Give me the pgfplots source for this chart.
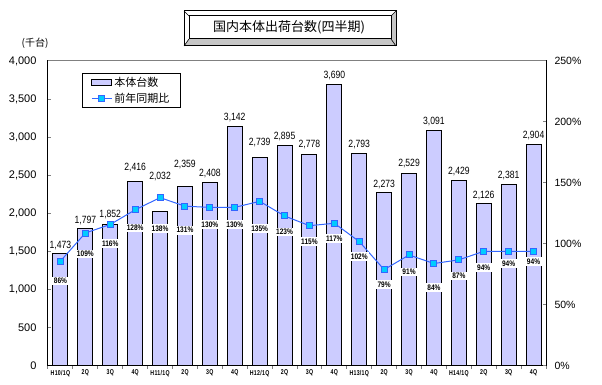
\documentclass[border=0pt]{standalone}
\usepackage{fontspec}
\setmainfont{Liberation Sans}
\newfontfamily\jp{Noto Sans CJK JP}
\newfontfamily\cond[FakeStretch=0.82]{Liberation Sans}
\newfontfamily\xcond[FakeStretch=0.75, LetterSpace=4]{Liberation Sans}
\usepackage{pgfplots}
\usepackage{pgfplotstable}
\pgfplotsset{compat=1.18}
\definecolor{barfill}{RGB}{204,204,255}
\definecolor{lineblue}{RGB}{51,102,255}
\definecolor{markcyan}{RGB}{0,204,255}
\pgfplotsset{
  mylinelegend/.style={legend image code/.code={\draw[mark repeat=2, mark phase=2, ##1] plot coordinates {(0pt,0pt) (10pt,0pt) (20pt,0pt)};}},
  mybarlegend/.style={legend image code/.code={\draw[fill=barfill, draw=black, line width=1pt] (0pt,-3pt) rectangle (20pt,3pt);}},
}

\pgfplotstableread{
x v boff p poff
0 1473 8.5 86 20
1 1797 8.5 109 21
2 1852 10.3 116 19
3 2416 14 128 18
4 2032 34.4 138 31
5 2359 21.3 131 24
6 2408 9.3 130 17
7 3142 8.7 130 17
8 2739 15 135 27
9 2895 8.7 123 16
10 2778 9.7 115 16
11 3690 9.3 117 15
12 2793 9 102 15
13 2273 8.3 79 15
14 2529 9.3 91 17
15 3091 8.7 84 24
16 2429 9 87 16
17 2126 8.6 94 16
18 2381 8.6 94 12
19 2904 8.6 94 10
}\datatable

\begin{document}
\begin{tikzpicture}[x=1pt,y=1pt]
\useasboundingbox (0,0) rectangle (602,385);
% title box
\fill[gray!45] (184,339) -- (396,339) -- (396,374) -- (391,369) -- (391,346) -- (189,346) -- cycle;
\fill[white] (184,339) -- (184,374) -- (396,374) -- (391,369) -- (189,369) -- (189,346) -- cycle;
\draw[line width=1pt] (184,339) rectangle (396,374);
\draw[line width=1pt] (189,346) rectangle (391,369);
\draw[line width=0.6pt] (184,339) -- (189,346) (184,374) -- (189,369) (396,374) -- (391,369) (396,339) -- (391,346);
\node[font=\jp\fontsize{13}{13}\selectfont] at (289,357.5) {国内本体出荷台数(四半期)};
\node[font=\jp\fontsize{10}{10}\selectfont] at (35,342) {(千台)};

\begin{axis}[
  at={(48pt,19pt)}, anchor=south west,
  scale only axis, width=498pt, height=305pt,
  xmin=-0.5, xmax=19.5, ymin=0, ymax=4000,
  clip=false,
  axis line style={line width=1pt},
  tick pos=left,
  tick align=inside,
  major tick length=3pt, minor tick length=3pt,
  ytick={0,500,...,4000},
  xtick={0,...,19},
  xticklabels={H10/1Q,2Q,3Q,4Q,H11/1Q,2Q,3Q,4Q,H12/1Q,2Q,3Q,4Q,H13/1Q,2Q,3Q,4Q,H14/1Q,2Q,3Q,4Q},
  minor xtick={-0.5,0.5,...,19.5},
  major x tick style={draw=none},
  minor x tick style={line width=1pt, yshift=-3pt},
  major y tick style={line width=1pt},
  x tick label style={font=\xcond\bfseries\fontsize{7}{7}\selectfont, yshift=-0.5pt},
  y tick label style={font=\fontsize{11}{11}\selectfont, xshift=-8pt},
  /pgf/number format/assume math mode=true,
  /pgf/number format/1000 sep={,},
]
\addplot[ybar, bar width=15pt, bar shift=0pt, fill=barfill, draw=black, line width=1pt,
  visualization depends on={\thisrow{boff} \as \boff},
  nodes near coords,
  every node near coord/.append style={anchor=center, yshift=\boff, font=\cond\fontsize{10.5}{10.5}\selectfont, text=black}]
  table[x=x, y=v] {\datatable};
\draw[gray, line width=1pt] (rel axis cs:0,1) -- (rel axis cs:1,1);
\end{axis}

\begin{axis}[
  at={(48pt,19pt)}, anchor=south west,
  scale only axis, width=498pt, height=305pt,
  xmin=-0.5, xmax=19.5, ymin=0, ymax=250,
  clip=false,
  axis x line=none,
  axis y line*=right,
  axis line style={line width=1pt, -},
  tick align=inside,
  major tick length=3pt,
  major y tick style={line width=1pt},
  ytick={0,50,...,250},
  yticklabel={\pgfmathprintnumber{\tick}\%},
  y tick label style={font=\fontsize{10.5}{10.5}\selectfont, xshift=5pt},
  /pgf/number format/assume math mode=true,
  legend style={at={(0.068,0.961)}, anchor=north west, draw=black, line width=1pt, fill=white,
    font=\jp\fontsize{11}{11}\selectfont, inner xsep=9pt, inner ysep=2pt, row sep=1pt},
  legend cell align=left,
]
\addlegendimage{mybarlegend}
\addlegendentry{本体台数}
\addplot[color=lineblue, line width=1pt, mark=square*, mark size=3pt,
  mark options={fill=markcyan, draw=lineblue, line width=1pt},
  visualization depends on={\thisrow{poff} \as \poff},
  nodes near coords={\pgfmathprintnumber{\pgfplotspointmeta}\%},
  every node near coord/.append style={anchor=center, yshift=-\poff, fill=white, inner sep=1.5pt,
    font=\cond\bfseries\fontsize{8}{8}\selectfont, text=black},
  mylinelegend]
  table[x=x, y=p] {\datatable};
\addlegendentry{前年同期比}
\end{axis}
\end{tikzpicture}
\end{document}
